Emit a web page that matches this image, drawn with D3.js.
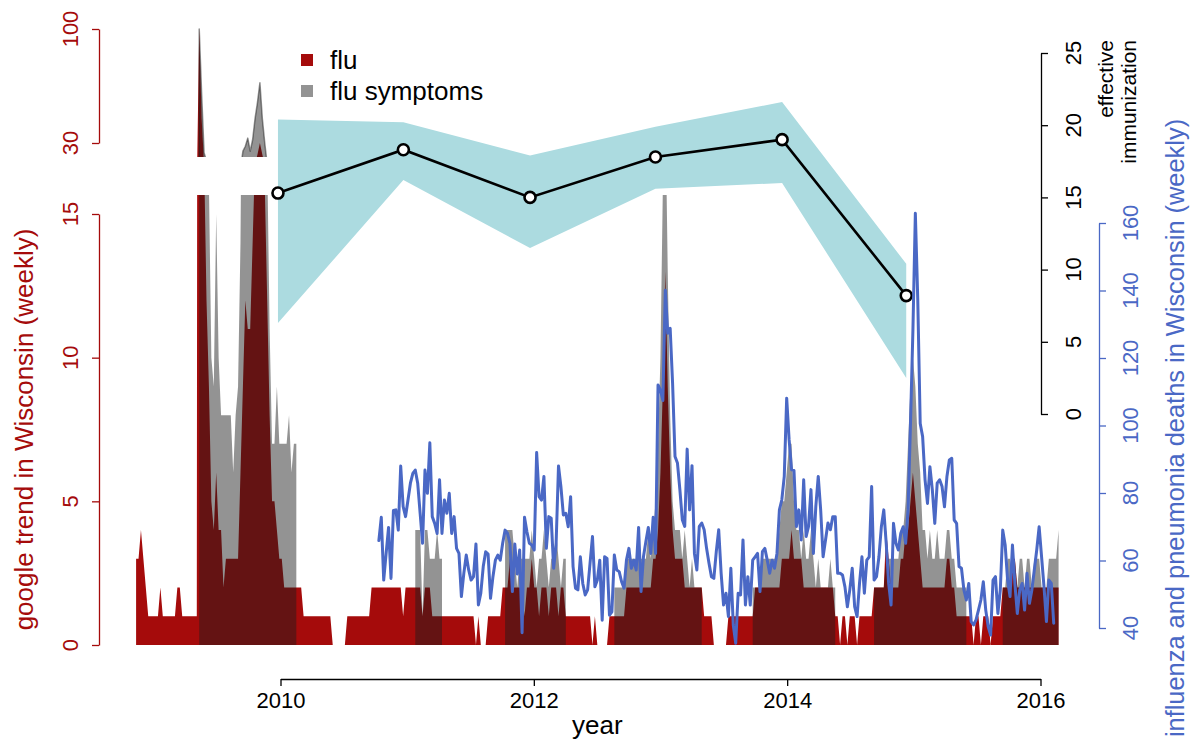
<!DOCTYPE html>
<html>
<head>
<meta charset="utf-8">
<script src="https://cdn.jsdelivr.net/npm/d3@7"></script>
<style>
  body { margin: 0; background: #fff; }
  svg { display: block; }
  text { font-family: "Liberation Sans", Arial, Helvetica, sans-serif; }
</style>
</head>
<body>
<svg id="chart" width="1197" height="744"></svg>
<script>
// Weekly calendar used by all series (decimal years)
const firstWeek = 2008.86;
const weekLength = 7 / 365.25;

// Google trend "flu", Wisconsin, weekly (index = week number)
const fluTrend = [
  3,3,4,3,2,1,1,1,1,1,   2,1,1,1,1,1,1,2,2,1,
  1,1,1,1,1,1,100,45,17,12, 9,5,4,6,4,4,2,3,3,3,
  3,3,3,6,9,12,11,11,14,17, 23,30,23,16,12,8,5,5,4,3,
  3,2,2,2,2,2,2,2,2,1,   1,1,1,1,1,1,1,1,1,1,
  1,0,0,0,0,0,0,1,1,1,   1,1,1,1,1,1,1,2,2,2,
  2,2,2,2,2,2,2,2,2,2,   1,2,2,2,2,2,2,2,1,2,
  2,2,1,1,1,1,1,1,1,1,   1,1,1,1,1,1,1,1,1,1,
  0,1,0,0,0,1,1,1,1,1,   1,2,2,2,3,2,2,2,2,2,
  1,2,2,3,2,2,1,2,2,2,   1,2,2,2,1,2,2,1,1,1,
  1,1,1,1,1,1,1,1,0,1,   0,0,0,0,0,1,1,1,1,1,
  1,1,2,2,2,2,2,2,2,2,   2,2,2,3,3,4,6,9,13,9,
  6,4,3,3,3,3,2,2,2,2,   2,2,2,2,1,1,1,1,0,0,
  0,0,0,0,1,1,1,1,1,1,   1,1,1,1,1,2,2,2,2,2,
  2,2,2,2,2,2,3,3,3,3,   4,3,3,3,3,2,2,2,2,2,
  2,2,2,2,2,2,2,2,1,1,   0,1,1,0,1,1,1,0,1,1,
  1,1,1,1,2,2,2,2,2,4,   3,2,2,2,2,3,3,4,4,5,
  6,5,4,3,2,2,2,2,2,2,   2,2,2,2,3,3,2,2,1,1,
  1,1,1,1,1,0,1,1,0,1,   1,1,0,1,1,1,1,2,2,2,
  2,3,3,2,2,2,2,2,2,2,   2,2,2,2,2,2,2,2,2,2,
  2
];

// Google trend "flu symptoms", Wisconsin, weekly (null = not reported)
const N = null;
const symptomTrend = [
  N,N,N,N,N,N,N,N,N,N,   N,N,N,N,N,N,N,N,N,N,
  N,N,N,N,N,N,100,60,24,19, 16,10,9,15,10,8,8,8,8,8,
  6,8,9,14,25,28,33,25,32,45, 55,67,45,30,17,11,7,7,9,7,
  7,7,7,8,6,7,7,N,N,N,   N,N,N,N,N,N,N,N,N,N,
  N,N,N,N,N,N,N,N,N,N,   N,N,N,N,N,N,N,N,N,N,
  N,N,N,N,N,N,N,N,N,N,   N,N,N,N,N,4,4,4,1,4,
  4,3,3,3,4,3,3,N,N,N,   N,N,N,N,N,N,N,N,N,N,
  N,N,N,N,N,N,N,N,N,N,   N,N,4,4,4,4,3,2,3,3,
  3,3,3,4,3,2,3,3,4,3,   2,3,3,4,3,2,3,3,N,N,
  N,N,N,N,N,N,N,N,N,N,   N,N,N,N,N,N,N,2,2,2,
  2,2,3,3,3,3,3,3,3,3,   3,4,3,4,5,7,10,16,19,13,
  8,5,4,4,4,3,4,3,2,3,   2,2,2,2,N,N,N,N,N,N,
  N,N,N,N,N,N,N,N,N,N,   N,N,N,N,2,2,2,2,3,3,
  3,3,3,3,3,4,5,5,6,7,   7,5,4,4,3,4,3,3,4,3,
  2,3,2,2,2,2,3,2,2,N,   N,N,N,N,N,N,N,N,N,N,
  N,N,N,N,2,2,2,2,2,3,   3,3,3,3,3,4,4,5,7,9,
  10,9,7,6,4,4,3,4,3,3,  4,3,3,3,4,4,3,3,2,2,
  2,2,2,N,N,N,N,N,N,N,   N,N,N,N,N,N,N,2,2,3,
  3,2,3,2,3,3,2,3,3,2,   3,3,3,2,2,2,3,3,3,3,
  4
];

// Influenza and pneumonia deaths, Wisconsin, weekly (first value at week 100)
const deathsFirstWeek = 100;
const deaths = [
  65.9,72.8,54.2,62.1,69.8,54.7,74.8,75.0,69.0,88.0,
  76.0,73.0,77.9,82.9,85.8,86.8,82.9,74.0,65.1,86.8,
  79.9,94.9,73.0,71.0,68.0,83.9,68.0,77.9,74.0,79.9,
  68.0,73.0,63.6,62.1,49.3,56.2,61.6,57.2,54.2,55.2,
  64.9,46.8,50.3,58.2,62.6,61.9,48.8,55.2,60.1,61.6,
  60.1,65.1,69.0,68.0,65.1,50.8,64.9,56.0,63.1,38.6,
  72.8,68.5,65.1,64.6,63.1,92.0,78.9,77.9,84.9,63.6,
  73.0,72.5,57.7,64.6,88.0,81.9,73.5,74.0,70.0,78.9,
  58.2,51.8,51.3,61.1,53.2,49.8,51.3,59.2,67.1,52.2,
  54.2,
  60.1,42.3,61.1,60.6,43.8,44.8,61.6,57.2,56.7,53.7,
  51.8,60.1,63.6,57.7,60.1,57.2,69.8,50.8,61.1,65.6,
  69.8,62.1,72.8,62.1,112.0,110.5,107.4,140.1,127.3,128.8,
  112.5,90.8,88.9,81.0,72.1,70.1,93.0,75.0,88.1,62.1,
  57.2,70.1,71.1,69.1,63.6,59.2,55.2,54.7,62.6,69.1,
  56.2,46.8,50.3,43.4,57.7,40.9,35.5,50.3,49.8,66.1,
  46.8,55.2,46.8,60.1,61.1,62.1,50.8,62.6,63.6,60.1,
  56.2,60.1,57.7,62.1,75.0,78.0,84.9,108.1,95.8,86.9,
  86.7,70.1,75.0,66.1,83.9,67.1,70.1,81.0,62.1,76.0,
  84.9,75.0,61.1,66.1,71.1,69.1,73.0,
  73.0,56.2,56.2,55.7,52.2,46.3,51.3,57.7,46.3,43.4,
  53.2,61.1,50.3,60.1,61.1,81.9,54.2,55.2,61.1,70.0,
  75.0,65.1,53.2,46.8,71.0,65.1,63.1,68.1,70.0,65.1,
  75.0,100.6,128.3,162.9,137.2,100.6,96.7,83.9,76.9,87.8,
  80.9,71.0,82.9,83.9,81.9,75.9,84.8,89.8,90.3,72.0,
  71.0,58.2,57.7,51.3,48.3,53.2,41.9,40.9,42.4,45.3,
  48.3,53.7,45.3,40.4,37.9,54.2,55.2,44.3,51.3,69.0,
  64.6,54.2,49.3,64.6,53.2,44.3,51.3,53.2,45.3,56.2,
  47.3,51.3,57.2,63.1,70.0,61.1,52.2,41.9,54.2,53.2,
  41.4
];

// Effective immunization per season with its interval
const seasonYear = [2009.98, 2010.97, 2011.97, 2012.96, 2013.96, 2014.94];
const immunization = [15.3, 18.3, 15.0, 17.8, 19.0, 8.2];
const immunizationLow = [6.3, 16.2, 11.5, 15.6, 16.0, 2.5];
const immunizationHigh = [20.4, 20.2, 17.9, 19.9, 21.6, 10.4];

// Axis ticks
const yearTicks = [2010, 2012, 2014, 2016];
const trendTicksLow = [0, 5, 10, 15];
const trendTicksHigh = [30, 100];
const immunizationTicks = [0, 5, 10, 15, 20, 25];
const deathTicks = [40, 60, 80, 100, 120, 140, 160];

const RED = "#a50b0b";
const GREY = "rgba(30,30,30,0.48)";
const BLUE = "#4a68c5";
const BAND = "#acdbe0";
const TICK_FONT = 22;
const TITLE_FONT = 26;

const svg = d3.select("#chart");

// Scales: the trend axis is split into a lower and an upper panel
const x = d3.scaleLinear().domain([2010, 2016]).range([280.5, 1040.5]);
const yLow = d3.scaleLinear().domain([0, 15]).range([645, 214]);
const yHigh = d3.scaleLinear().domain([30, 100]).range([143, 29]);
const yImm = d3.scaleLinear().domain([0, 25]).range([414, 53]);
const yDeaths = d3.scaleLinear().domain([40, 160]).range([628, 223]);

const weekX = i => x(firstWeek + i * weekLength);
const plotCenterX = (weekX(0) + weekX(fluTrend.length - 1)) / 2;

const defs = svg.append("defs");
defs.append("clipPath").attr("id", "clipLow")
  .append("rect").attr("x", 0).attr("y", 195).attr("width", 1197).attr("height", 460);
defs.append("clipPath").attr("id", "clipHigh")
  .append("rect").attr("x", 0).attr("y", 0).attr("width", 1197).attr("height", 157);

function trendArea(yScale) {
  return d3.area()
    .defined(d => d != null)
    .x((d, i) => weekX(i))
    .y0(yScale(0))
    .y1(d => yScale(d));
}

[["clipLow", yLow], ["clipHigh", yHigh]].forEach(([clip, ys]) => {
  const g = svg.append("g").attr("clip-path", `url(#${clip})`);
  g.append("path").datum(fluTrend).attr("d", trendArea(ys)).attr("fill", RED);
  const p = g.append("path").datum(symptomTrend).attr("d", trendArea(ys)).attr("fill", GREY);
  if (clip === "clipHigh") p.attr("stroke", GREY).attr("stroke-width", 1.5).attr("stroke-linejoin", "round");
});

// Immunization band, line and points
const seasons = seasonYear.map((s, i) => ({ s, v: immunization[i], lo: immunizationLow[i], hi: immunizationHigh[i] }));
svg.append("path").datum(seasons)
  .attr("d", d3.area().x(d => x(d.s)).y0(d => yImm(d.lo)).y1(d => yImm(d.hi)))
  .attr("fill", BAND);
svg.append("path").datum(seasons)
  .attr("d", d3.line().x(d => x(d.s)).y(d => yImm(d.v)))
  .attr("fill", "none").attr("stroke", "#000").attr("stroke-width", 2.6);
svg.selectAll("circle.season").data(seasons).join("circle")
  .attr("class", "season")
  .attr("cx", d => x(d.s)).attr("cy", d => yImm(d.v)).attr("r", 5.5)
  .attr("fill", "#fff").attr("stroke", "#000").attr("stroke-width", 2.6);

// Deaths line
svg.append("path").datum(deaths)
  .attr("d", d3.line().x((d, i) => weekX(i + deathsFirstWeek)).y(d => yDeaths(d)))
  .attr("fill", "none").attr("stroke", BLUE).attr("stroke-width", 3)
  .attr("stroke-linejoin", "round").attr("stroke-linecap", "round");

// Rotated text helper (reads bottom to top)
function vText(px, py, str, size, color, anchor) {
  return svg.append("text")
    .attr("transform", `translate(${px},${py}) rotate(-90)`)
    .attr("text-anchor", anchor || "middle")
    .attr("dy", "0.35em")
    .attr("font-size", size)
    .attr("fill", color)
    .text(str);
}

// Bottom axis
const xAxis = svg.append("g").attr("transform", "translate(0,679)")
  .call(d3.axisBottom(x).tickValues(yearTicks).tickFormat(d3.format("d")).tickSize(7).tickSizeOuter(0));
xAxis.select(".domain").attr("stroke", "#000").attr("stroke-width", 1.3);
xAxis.selectAll(".tick line").attr("stroke", "#000").attr("stroke-width", 1.3);
xAxis.selectAll(".tick text").attr("font-size", TICK_FONT).attr("font-family", "Liberation Sans, Arial, sans-serif")
  .attr("fill", "#000").attr("y", 13).attr("dy", "0.71em");
svg.append("text").attr("x", plotCenterX).attr("y", 734).attr("text-anchor", "middle")
  .attr("font-size", TITLE_FONT).attr("fill", "#000").text("year");

// Left axis, two panels
function leftAxis(scale, ticks) {
  const g = svg.append("g").attr("transform", "translate(99,0)")
    .call(d3.axisLeft(scale).tickValues(ticks).tickSize(7).tickSizeOuter(0).tickFormat(""));
  g.selectAll(".domain, .tick line").attr("stroke", RED).attr("stroke-width", 1.3);
  ticks.forEach(t => vText(70, scale(t), t, TICK_FONT, RED));
}
leftAxis(yLow, trendTicksLow);
leftAxis(yHigh, trendTicksHigh);
vText(24, (yLow(0) + yLow(15)) / 2, "google trend in Wisconsin (weekly)", TITLE_FONT, RED);

// Right axis: immunization
const gImm = svg.append("g").attr("transform", "translate(1041,0)")
  .call(d3.axisRight(yImm).tickValues(immunizationTicks).tickSize(7).tickSizeOuter(0).tickFormat(""));
gImm.selectAll(".domain, .tick line").attr("stroke", "#000").attr("stroke-width", 1.3);
immunizationTicks.forEach(t => vText(1073, yImm(t), t, TICK_FONT, "#000"));
vText(1106, 40, "effective", 21, "#000", "end");
vText(1129, 40, "immunization", 21, "#000", "end");

// Right axis: deaths
const gDeaths = svg.append("g").attr("transform", "translate(1099,0)")
  .call(d3.axisRight(yDeaths).tickValues(deathTicks).tickSize(7).tickSizeOuter(0).tickFormat(""));
gDeaths.selectAll(".domain, .tick line").attr("stroke", BLUE).attr("stroke-width", 1.3);
deathTicks.forEach(t => vText(1130, yDeaths(t), t, TICK_FONT, BLUE));
vText(1175, 428, "influenza and pneumonia deaths in Wisconsin (weekly)", 25.4, BLUE);

// Legend
const legend = [{ label: "flu", color: RED }, { label: "flu symptoms", color: "#939393" }];
const lg = svg.append("g");
legend.forEach((d, i) => {
  lg.append("rect").attr("x", 301).attr("y", 54 + i * 31).attr("width", 12).attr("height", 12).attr("fill", d.color);
  lg.append("text").attr("x", 330).attr("y", 60 + i * 31).attr("dy", "0.35em")
    .attr("font-size", TITLE_FONT).attr("fill", "#000").text(d.label);
});
</script>
</body>
</html>
